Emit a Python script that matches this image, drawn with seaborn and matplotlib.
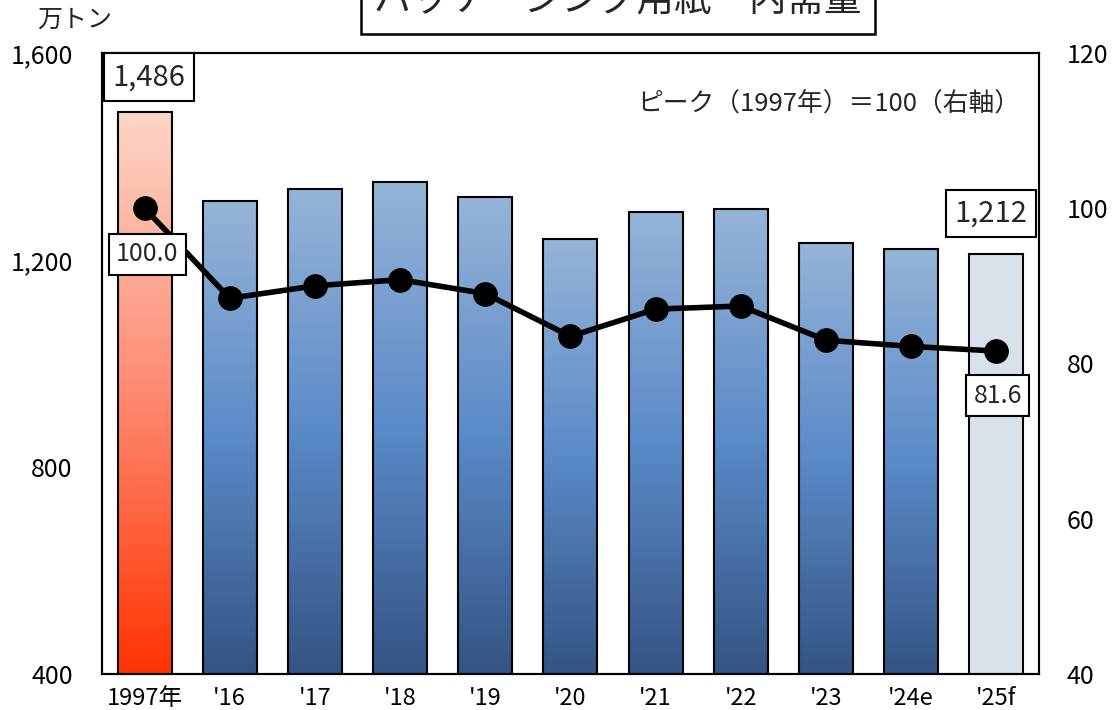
import numpy as np
import matplotlib
matplotlib.use("Agg")
import matplotlib.pyplot as plt
from matplotlib.colors import LinearSegmentedColormap
import seaborn as sns

# Domestic demand for packaging paper (10k tonnes) and index (peak 1997 = 100)
years = ["1997年", "'16", "'17", "'18", "'19", "'20", "'21", "'22", "'23", "'24e", "'25f"]
demand = [1486, 1313, 1338, 1350, 1322, 1241, 1293, 1299, 1233, 1221, 1212]
index_vals = [100.0, 88.4, 90.0, 90.8, 89.0, 83.5, 87.0, 87.4, 83.0, 82.2, 81.6]

left_ticks = [400, 800, 1200, 1600]
right_ticks = [40, 60, 80, 100, 120]

sns.set_theme(style="white")
plt.rcParams["font.family"] = ["Noto Sans CJK JP", "DejaVu Sans"]

fig = plt.figure(figsize=(11.17, 7.10), dpi=100)
ax = fig.add_axes([0.0913, 0.0507, 0.8388, 0.8747])

bar_colors = ["#ff3300"] + ["#4f7fbb"] * (len(years) - 2) + ["#d6e0ee"]
sns.barplot(x=years, y=demand, hue=years, palette=bar_colors, legend=False,
            width=0.635, edgecolor="black", linewidth=1.5, ax=ax, zorder=2)

# vertical gradient fills for the bars
red_cmap = LinearSegmentedColormap.from_list("red", ["#ff3300", "#ff8a72", "#fdd6c6"])
blue_cmap = LinearSegmentedColormap.from_list("blue", ["#335484", "#5a8ac8", "#96b4d8"])
grad = np.linspace(0, 1, 256).reshape(-1, 1)
patches = list(ax.patches)
for i, p in enumerate(patches):
    if i == len(patches) - 1:
        continue
    cmap = red_cmap if i == 0 else blue_cmap
    x0, w, h = p.get_x(), p.get_width(), p.get_height()
    ax.imshow(grad, extent=[x0, x0 + w, left_ticks[0], h], origin="lower",
              aspect="auto", cmap=cmap, zorder=1.5, interpolation="bilinear")
    p.set_facecolor("none")

ax.set_ylim(left_ticks[0], left_ticks[-1])
ax.set_xlim(-0.5, len(years) - 0.5)
ax.set_yticks(left_ticks)
ax.set_yticklabels([f"{v:,}" for v in left_ticks])
ax.tick_params(axis="both", length=0, labelsize=18, colors="black")
ax.tick_params(axis="y", pad=21)
ax.tick_params(axis="x", pad=9, labelsize=17)
ax.set_xlabel("")
ax.set_ylabel("")
for s in ax.spines.values():
    s.set_color("black")
    s.set_linewidth(1.5)

# index line on the right axis
ax2 = ax.twinx()
sns.lineplot(x=np.arange(len(years)), y=index_vals, ax=ax2, color="black",
             linewidth=4, marker="o", markersize=17, markeredgecolor="black",
             zorder=4)
ax2.set_ylim(right_ticks[0], right_ticks[-1])
ax2.set_yticks(right_ticks)
ax2.tick_params(axis="y", length=0, labelsize=18, colors="black", pad=20)
ax2.set_ylabel("")
for s in ax2.spines.values():
    s.set_color("black")
    s.set_linewidth(1.5)

box = dict(boxstyle="square,pad=0.3", facecolor="white", edgecolor="black", linewidth=1.5)

ax.annotate(f"{demand[0]:,}", (0, demand[0]), xytext=(3, 25), textcoords="offset points",
            ha="center", va="center", fontsize=21, bbox=box, zorder=6)
ax.annotate(f"{demand[-1]:,}", (len(years) - 1, demand[-1]), xytext=(-4, 29),
            textcoords="offset points", ha="center", va="center", fontsize=21,
            bbox=box, zorder=6)
ax2.annotate(f"{index_vals[0]:.1f}", (0, index_vals[0]), xytext=(2, -33),
             textcoords="offset points", ha="center", va="center", fontsize=18,
             bbox=box, zorder=6)
ax2.annotate(f"{index_vals[-1]:.1f}", (len(years) - 1, index_vals[-1]), xytext=(1, -32),
             textcoords="offset points", ha="center", va="center", fontsize=18,
             bbox=box, zorder=6)

ax2.text(0.98, 0.919, "ピーク（1997年）＝100（右軸）", transform=ax.transAxes,
         ha="right", va="center", fontsize=18.5)

fig.text(37 / 1117, 1 - 20 / 710, "万トン", ha="left", va="center", fontsize=18)

fig.text(618 / 1117, 1 - 1 / 710, "パッケージング用紙　内需量", ha="center", va="center",
         fontsize=27,
         bbox=dict(boxstyle="square,pad=0.35", facecolor="white", edgecolor="black",
                   linewidth=1.8))

fig.savefig("out.png", dpi=100)
